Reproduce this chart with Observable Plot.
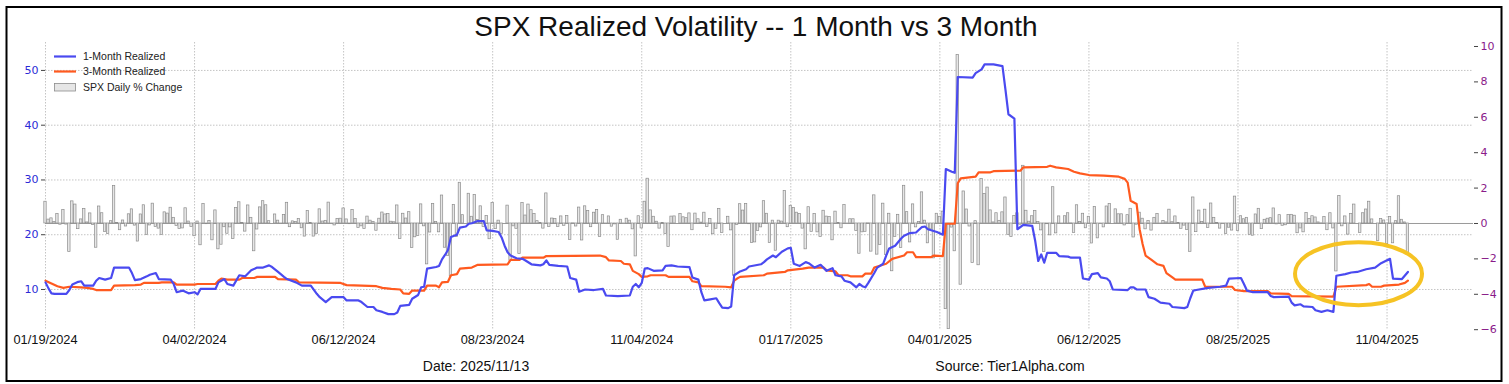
<!DOCTYPE html>
<html><head><meta charset="utf-8">
<script src="https://cdn.jsdelivr.net/npm/d3@7"></script>
<script src="https://cdn.jsdelivr.net/npm/@observablehq/plot@0.6"></script>
<style>
html,body{margin:0;padding:0;background:#fff;overflow:hidden;}
#chart svg{display:block;}
</style></head><body><div id="chart"></div>
<script>
// ---- DATA ----
// SPX daily % change, one value per trading day from 01/19/2024 to 11/13/2025
const pctChange = [
  // 2024 Jan
  1.23,0.22,0.29,0.08,0.53,-0.07,0.76,-0.06,-1.61,
  // Feb
  1.25,1.07,-0.32,0.23,0.82,0.06,0.57,-0.09,-1.37,0.96,0.58,-0.48,-0.60,0.13,2.11,0.03,-0.38,0.17,-0.17,0.52,
  // Mar
  0.80,-0.12,-1.02,0.51,1.03,-0.65,-0.11,1.12,-0.19,-0.29,-0.65,0.63,0.56,0.89,0.32,-0.14,-0.31,-0.28,0.86,0.11,
  // Apr
  -0.20,-0.72,0.11,-1.23,1.11,-0.04,0.14,-0.95,0.74,-1.46,-1.20,-0.21,-0.58,-0.22,-0.88,0.87,1.20,0.02,-0.46,1.02,0.32,-1.57,
  // May
  -0.34,0.91,1.26,1.03,0.13,0.00,0.51,0.16,-0.02,0.48,1.17,-0.21,0.12,0.09,0.25,-0.27,-0.74,0.70,0.02,-0.74,-0.60,0.80,
  // Jun
  0.11,0.15,1.18,-0.02,-0.11,0.26,0.27,0.85,0.23,-0.04,0.77,0.25,-0.25,-0.16,-0.31,0.39,0.16,0.09,-0.41,
  // Jul
  0.27,0.62,0.51,0.54,0.10,0.07,1.02,-0.88,0.55,0.28,0.64,-1.39,-0.78,-0.71,1.08,-0.16,-2.31,-0.51,1.11,0.08,-0.50,1.58,
  // Aug
  -1.37,-1.84,-3.00,1.04,-0.77,2.30,0.47,0.00,1.68,0.38,1.61,0.20,0.97,-0.20,0.42,-0.89,1.15,-0.32,0.16,-0.60,0.00,1.01,
  // Sep
  -2.12,-0.16,-0.30,-1.73,1.16,0.45,1.07,0.75,0.54,0.13,0.03,-0.29,1.70,-0.19,0.28,0.25,-0.19,0.40,-0.13,0.42,
  // Oct
  -0.93,0.01,-0.17,0.90,-0.96,0.97,0.71,-0.21,0.61,0.77,-0.76,0.47,-0.02,0.40,-0.18,-0.05,-0.92,0.21,-0.03,0.27,0.16,-0.33,-1.86,
  // Nov
  0.41,-0.28,1.23,2.53,0.74,0.38,0.10,-0.29,0.02,-0.60,-1.32,0.39,0.40,0.00,0.53,0.35,0.30,0.57,-0.38,0.56,
  // Dec
  0.24,0.05,0.61,-0.19,0.25,-0.61,-0.30,0.82,-0.54,0.00,0.38,-0.39,-2.95,-0.09,1.09,0.73,1.10,-0.04,-1.11,-1.07,-0.43,
  // 2025 Jan
  -0.22,1.26,0.55,-1.11,0.16,-1.54,0.16,0.11,1.83,-0.21,1.00,0.88,0.61,0.53,-0.29,-1.46,0.92,-0.47,0.53,-0.50,
  // Feb
  -0.76,0.72,0.39,0.36,-0.95,0.67,0.03,-0.27,1.04,-0.01,0.24,0.24,-0.43,-1.71,-0.50,-0.47,0.01,-1.59,1.59,
  // Mar
  -1.76,-1.22,1.12,-1.78,0.55,-2.70,-0.76,0.49,-1.39,2.13,0.64,-1.07,1.08,-0.22,0.08,1.76,0.16,-1.12,-0.33,-1.97,0.55,
  // Apr
  0.38,0.67,-4.84,-5.97,-0.23,-1.57,9.52,-3.46,1.81,0.79,-0.17,-2.24,0.13,-2.36,2.51,1.67,2.03,0.74,0.06,0.58,0.15,
  // May
  0.63,1.47,-0.64,-0.77,0.43,0.58,-0.07,3.26,0.72,0.10,0.41,0.70,0.09,-0.39,-1.61,-0.04,-0.67,2.05,-0.56,0.40,-0.01,
  // Jun
  0.41,0.58,0.01,-0.53,1.03,0.09,0.55,-0.27,0.38,-1.13,0.94,-0.84,-0.03,-0.22,0.96,1.11,0.00,0.80,0.52,0.52,
  // Jul
  -0.11,0.47,0.83,-0.79,-0.07,0.61,0.27,-0.33,0.14,-0.40,0.32,0.54,-0.01,0.14,0.06,0.78,0.07,0.40,0.02,-0.30,-0.12,-0.37,
  // Aug
  -1.60,1.47,-0.49,0.73,0.08,0.78,-0.25,1.13,0.32,0.03,-0.29,-0.01,-0.59,-0.24,-0.40,1.52,-0.43,0.41,0.24,0.32,-0.64,
  // Sep
  -0.69,0.51,0.83,-0.32,0.21,0.27,0.30,0.85,-0.05,0.47,-0.13,-0.10,0.48,0.49,0.44,-0.55,-0.28,-0.50,0.59,0.26,0.41,
  // Oct
  0.34,0.06,0.01,0.36,-0.38,0.58,-0.28,-2.71,1.56,-0.16,0.40,-0.63,0.53,1.07,0.00,-0.53,0.58,0.79,1.23,0.23,0.00,-0.99,0.26,
  // Nov
  0.17,-1.17,0.37,-1.12,0.13,1.54,0.21,0.06,-1.66
];

// 1-Month realized vol: [trading-day index, value]
const rv1Month = [[0,11.3],[1,10.2],[2,9.3],[3,9.2],[7,9.2],[8,9.9],[9,10.9],[11,11.4],[12,11.5],[13,10.7],[16,10.7],[17,11.6],[18,12.1],[20,11.8],[22,12.1],[23,14.0],[28,14.0],[29,13.0],[30,11.7],[32,11.9],[34,12.4],[35,12.7],[37,13.0],[38,11.9],[42,11.8],[43,11.0],[44,9.5],[46,9.8],[48,9.3],[50,9.5],[51,9.1],[52,10.1],[57,10.1],[58,11.3],[60,11.9],[61,11.0],[63,10.7],[65,12.6],[67,12.4],[69,13.5],[71,14.0],[73,14.0],[75,14.4],[76,14.1],[78,13.2],[80,12.3],[81,11.9],[84,11.3],[86,10.7],[89,10.7],[91,9.2],[92,8.6],[94,7.7],[96,8.6],[100,8.6],[101,8.0],[105,8.0],[106,7.7],[108,6.8],[110,6.8],[111,6.2],[113,5.9],[115,5.5],[117,5.5],[118,5.8],[119,7.0],[122,7.2],[123,8.3],[125,9.0],[126,10.4],[127,10.5],[128,13.8],[131,14.1],[132,14.3],[133,15.5],[134,16.3],[135,17.2],[136,19.6],[138,20.0],[139,21.3],[141,21.5],[142,22.0],[143,22.1],[145,22.5],[147,22.5],[148,20.8],[150,20.7],[152,20.5],[153,19.5],[154,18.0],[155,16.8],[156,16.2],[158,15.7],[160,15.6],[161,15.3],[163,14.6],[166,14.4],[167,14.6],[168,15.3],[169,14.5],[172,14.3],[175,14.2],[176,12.1],[178,11.8],[179,9.6],[181,10.0],[184,9.9],[187,10.1],[188,8.9],[192,8.8],[196,8.9],[197,10.5],[198,11.0],[199,10.4],[200,11.2],[201,13.8],[202,13.9],[204,13.4],[207,13.5],[208,14.3],[210,14.4],[212,14.2],[216,14.1],[217,12.2],[219,11.8],[220,9.5],[221,8.0],[223,8.2],[225,8.4],[226,7.5],[227,6.7],[229,6.6],[230,6.9],[231,12.6],[233,13.3],[235,13.7],[236,14.2],[240,14.6],[241,15.0],[242,15.5],[244,16.2],[245,15.9],[247,16.9],[249,17.5],[250,17.6],[251,14.7],[253,14.3],[255,15.0],[256,14.8],[258,14.0],[260,14.5],[262,13.4],[264,13.9],[265,12.6],[267,12.4],[268,11.6],[270,11.3],[272,10.4],[273,11.0],[274,10.6],[275,10.4],[276,11.2],[278,13.0],[279,14.0],[281,14.7],[282,16.2],[283,17.5],[285,18.0],[287,19.3],[288,19.8],[290,20.3],[292,20.4],[294,21.4],[295,21.5],[296,21.0],[299,20.5],[301,20.0],[302,32.0],[304,31.5],[305,31.3],[306,48.8],[311,48.7],[312,49.5],[314,50.2],[315,51.1],[318,51.1],[321,50.8],[322,46.5],[323,42.0],[325,41.2],[326,21.0],[328,21.8],[331,21.6],[332,18.8],[333,15.2],[334,16.4],[335,14.9],[336,16.7],[339,16.7],[340,16.1],[343,16.0],[344,15.8],[347,15.8],[348,12.0],[350,11.8],[351,12.8],[353,13.0],[354,12.2],[356,12.0],[357,11.5],[358,10.0],[363,9.9],[364,10.4],[365,10.4],[366,10.0],[369,10.0],[370,8.6],[372,8.3],[374,7.6],[377,7.4],[378,6.8],[382,6.6],[383,6.8],[384,8.4],[385,9.8],[386,9.9],[390,10.3],[394,10.5],[396,10.7],[397,12.0],[401,12.1],[402,11.0],[403,9.8],[405,9.5],[410,9.5],[411,8.8],[412,8.6],[417,8.7],[418,7.6],[419,7.1],[421,7.3],[422,6.9],[425,6.8],[426,6.2],[428,5.9],[430,6.2],[432,5.9],[433,12.5],[436,12.8],[438,13.1],[440,13.2],[443,13.7],[446,14.0],[448,14.8],[451,15.6],[452,12.0],[455,11.9],[457,13.2]];

// 3-Month realized vol: [trading-day index, value]
const rv3Month = [[0,11.6],[2,11.1],[4,10.6],[6,10.3],[8,10.5],[12,10.4],[14,10.3],[16,10.1],[17,9.9],[22,9.9],[23,10.7],[30,10.8],[32,10.9],[33,11.2],[38,11.2],[39,11.3],[43,11.3],[44,10.9],[50,10.9],[51,11.0],[57,11.0],[58,11.6],[59,12.0],[61,11.8],[65,11.8],[66,12.1],[70,12.1],[71,12.3],[77,12.3],[78,11.9],[84,11.8],[85,11.3],[99,11.2],[101,10.8],[111,10.6],[113,10.3],[116,10.1],[119,10.0],[120,9.3],[122,9.2],[123,9.8],[127,9.8],[128,10.7],[131,10.7],[132,10.4],[133,11.3],[135,11.4],[136,12.6],[138,12.8],[139,13.8],[143,14.0],[145,14.5],[155,14.6],[156,15.4],[159,15.4],[160,15.8],[167,15.8],[168,16.1],[186,16.2],[188,15.9],[189,15.3],[193,15.2],[194,14.7],[196,14.6],[197,13.4],[199,12.8],[200,12.3],[202,12.4],[203,12.6],[208,12.6],[209,12.3],[216,12.3],[217,11.5],[219,11.3],[220,10.6],[228,10.5],[230,10.4],[231,11.6],[232,12.0],[233,12.3],[241,12.6],[242,12.9],[248,13.2],[249,13.5],[254,13.8],[256,14.0],[261,14.0],[262,13.5],[265,13.3],[266,12.6],[269,12.6],[270,12.4],[274,12.4],[275,12.9],[277,12.9],[278,14.0],[282,14.7],[284,15.6],[288,16.2],[289,16.8],[291,16.8],[292,15.9],[297,15.9],[298,16.2],[301,16.1],[302,22.0],[305,22.0],[306,29.4],[307,30.3],[312,30.6],[313,31.4],[317,31.4],[318,31.6],[327,31.7],[328,32.3],[336,32.4],[337,32.6],[339,32.3],[343,32.0],[345,31.5],[347,31.2],[350,30.9],[355,30.8],[360,30.6],[362,30.2],[363,29.5],[364,26.2],[366,25.6],[367,21.0],[368,18.3],[369,16.2],[371,15.4],[373,14.6],[375,14.3],[376,13.0],[378,12.2],[379,11.8],[388,11.8],[389,10.5],[398,10.5],[399,9.9],[402,9.7],[410,9.7],[411,9.3],[417,9.2],[418,8.8],[432,8.7],[433,10.5],[443,10.8],[444,11.0],[445,10.5],[448,10.5],[449,10.7],[454,10.9],[456,11.2],[457,11.6]];

const xTickIdx = [0,50,100,150,200,250,300,350,400,450];
const xTickLabels = ["01/19/2024","04/02/2024","06/12/2024","08/23/2024","11/04/2024","01/17/2025","04/01/2025","06/12/2025","08/25/2025","11/04/2025"];
const leftTicks = [10,20,30,40,50];
const rightTicks = [-6,-4,-2,0,2,4,6,8,10];
const seriesNames = ["1-Month Realized","3-Month Realized","SPX Daily % Change"];
const titleText = "SPX Realized Volatility -- 1 Month vs 3 Month";
const dateText = "Date: 2025/11/13";
const sourceText = "Source: Tier1Alpha.com";
// highlight ellipse (data units: trading-day index, vol)
const highlight = {cx: 440.6, cy: 12.8, rx: 21.3, ry: 5.75};

// ---- STYLE ----
const BLUE = "#4a4af0", ORANGE = "#ff5a1f";
const SANS = "'Liberation Sans', Arial, sans-serif";
// secondary (right) axis mapped onto the left scale
const R0 = 22.05, RU = 3.232;
const toLeft = p => R0 + RU * p;

const bars = pctChange.map((p, i) => ({i, p}));
const fmtRight = d => { const t = Math.round((d - R0) / RU); return t < 0 ? "\u2212" + Math.abs(t) : String(t); };
const xLabel = new Map(xTickIdx.map((d, k) => [d, xTickLabels[k]]));

const plot = Plot.plot({
  width: 1509, height: 384,
  marginLeft: 45, marginRight: 36, marginTop: 42, marginBottom: 54,
  style: {fontFamily: "'DejaVu Sans', sans-serif", fontSize: "11px", background: "#fff", overflow: "visible"},
  x: {type: "linear", domain: [0, 479], axis: null},
  y: {domain: [2.51, 55.1], axis: null},
  marks: [
    Plot.gridY({ticks: leftTicks, stroke: "#c4c4c4", strokeOpacity: 1, strokeDasharray: "1.5,1.5"}),
    Plot.gridX({ticks: xTickIdx, stroke: "#c4c4c4", strokeOpacity: 1, strokeDasharray: "1.5,1.5"}),
    Plot.ruleY([toLeft(0)], {stroke: "#9a9a9a", strokeWidth: 1}),
    Plot.rect(bars, {x1: d => d.i - 0.4, x2: d => d.i + 0.4, y1: toLeft(0), y2: d => toLeft(d.p),
      fill: "#e6e6e6", stroke: "#8c8c8c", strokeWidth: 0.7}),
    Plot.line(rv3Month, {x: d => d[0], y: d => d[1], stroke: ORANGE, strokeWidth: 2.2}),
    Plot.line(rv1Month, {x: d => d[0], y: d => d[1], stroke: BLUE, strokeWidth: 2.2}),
    Plot.axisY({ticks: leftTicks, anchor: "left", tickSize: 4, tickPadding: 3, stroke: "#444", fill: "#2a2ad6", fontSize: 11}),
    Plot.axisY({ticks: rightTicks.map(toLeft), anchor: "right", tickSize: 4, tickPadding: 3, stroke: "#444", fill: "#8a1a8a", fontSize: 11, tickFormat: fmtRight}),
    Plot.axisX({ticks: xTickIdx, anchor: "bottom", tickSize: 0, tickPadding: 4, tickFormat: d => xLabel.get(d), fontFamily: SANS, fontSize: 12.8, fill: "#111"})
  ]
});

document.getElementById("chart").appendChild(plot);
const svg = d3.select(plot);
const sx = plot.scale("x"), sy = plot.scale("y");

// border
svg.append("rect").attr("x", 6.5).attr("y", 7).attr("width", 1495).attr("height", 374)
  .attr("fill", "none").attr("stroke", "#000").attr("stroke-width", 2);
// title
svg.append("text").attr("x", 756).attr("y", 36).attr("text-anchor", "middle")
  .attr("font-family", SANS).attr("font-size", 28).attr("fill", "#111").text(titleText);
// bottom captions
svg.append("text").attr("x", 476).attr("y", 371).attr("text-anchor", "middle")
  .attr("font-family", SANS).attr("font-size", 14).attr("fill", "#111").text(dateText);
svg.append("text").attr("x", 1010).attr("y", 371).attr("text-anchor", "middle")
  .attr("font-family", SANS).attr("font-size", 14).attr("fill", "#111").text(sourceText);

// legend
const lg = svg.append("g").attr("font-family", SANS).attr("font-size", 10.5).attr("fill", "#222").attr("text-anchor", "start");
lg.append("line").attr("x1", 54).attr("x2", 76).attr("y1", 56.5).attr("y2", 56.5).attr("stroke", BLUE).attr("stroke-width", 2.2);
lg.append("text").attr("x", 83).attr("y", 56.5).attr("dy", "0.35em").attr("text-anchor", "start").text(seriesNames[0]);
lg.append("line").attr("x1", 54).attr("x2", 76).attr("y1", 71.5).attr("y2", 71.5).attr("stroke", ORANGE).attr("stroke-width", 2.2);
lg.append("text").attr("x", 83).attr("y", 71.5).attr("dy", "0.35em").attr("text-anchor", "start").text(seriesNames[1]);
lg.append("rect").attr("x", 54.5).attr("y", 83.5).attr("width", 21).attr("height", 7.5)
  .attr("fill", "#e6e6e6").attr("stroke", "#8c8c8c").attr("stroke-width", 0.8);
lg.append("text").attr("x", 83).attr("y", 87.5).attr("dy", "0.35em").attr("text-anchor", "start").text(seriesNames[2]);

// highlight ellipse
const ecx = sx.apply(highlight.cx), ecy = sy.apply(highlight.cy);
const erx = sx.apply(highlight.cx + highlight.rx) - ecx;
const ery = sy.apply(highlight.cy - highlight.ry) - ecy;
svg.append("ellipse").attr("cx", ecx).attr("cy", ecy).attr("rx", erx).attr("ry", ery)
  .attr("fill", "none").attr("stroke", "#f6c324").attr("stroke-width", 4);
</script>
</body></html>
